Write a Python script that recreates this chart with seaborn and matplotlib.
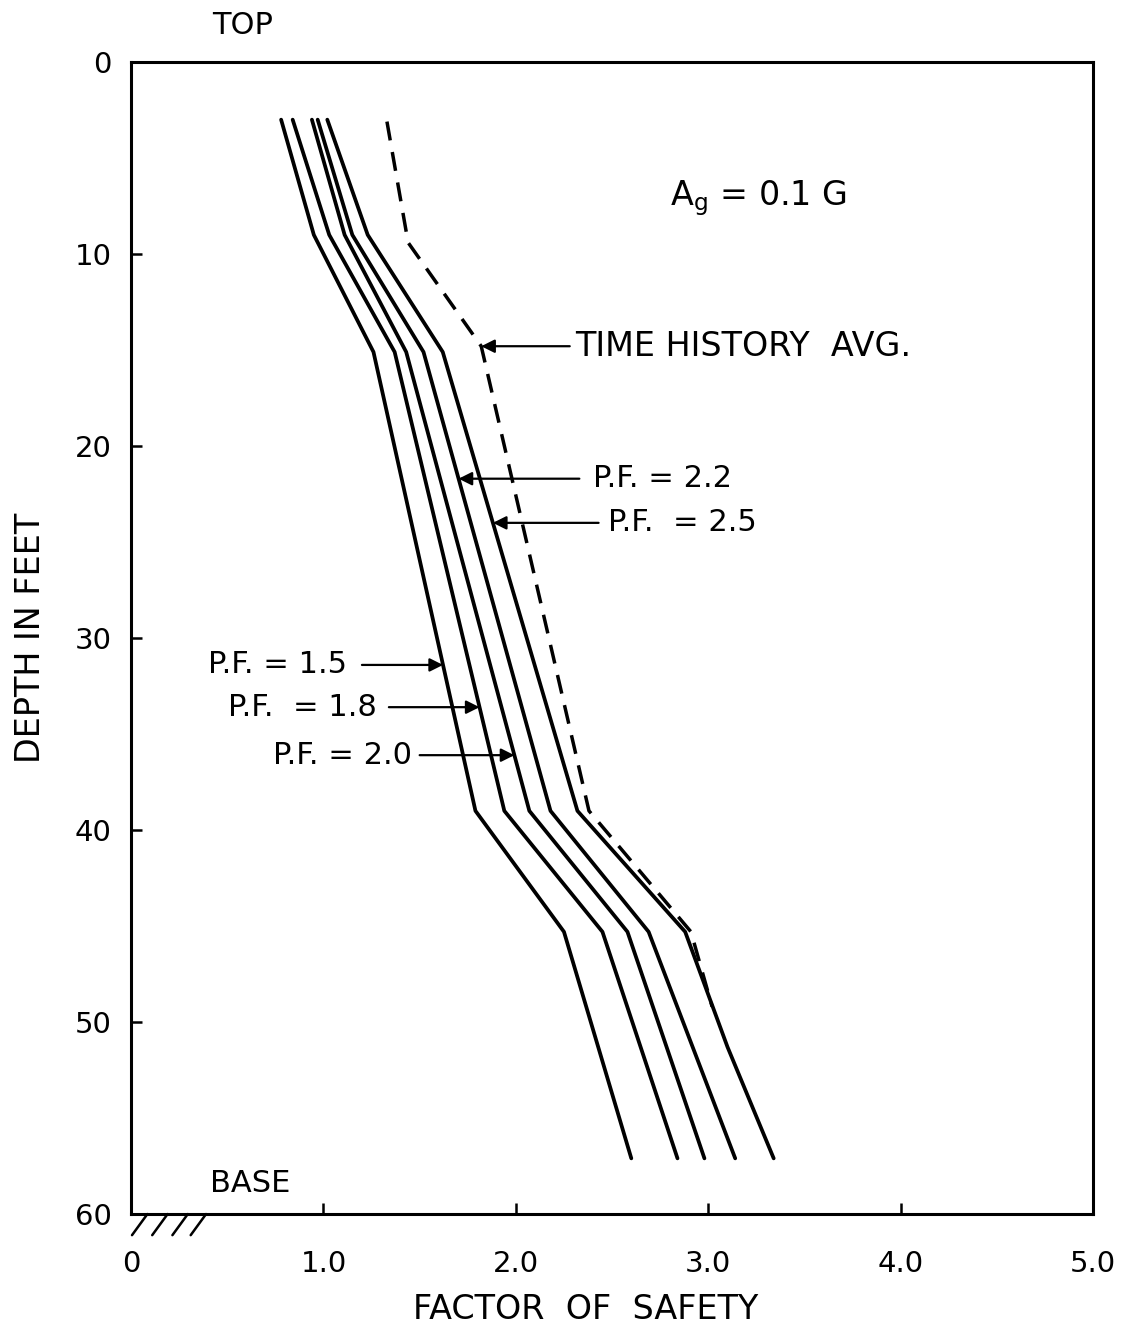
import numpy as np
import pandas as pd
import matplotlib
matplotlib.use("Agg")
import matplotlib.pyplot as plt
import seaborn as sns

# Depth (ft) of the profile break points
depth_pf = [3.0, 9.0, 15.1, 39.0, 45.3, 57.1]
depth_pf25 = [3.0, 9.0, 15.1, 39.0, 45.3, 51.3, 57.1]
depth_th = [3.1, 9.4, 14.8, 39.0, 45.3, 49.2]

# Factor of safety along depth for each peak factor (P.F.)
fs_pf15 = [0.78, 0.95, 1.26, 1.79, 2.25, 2.60]
fs_pf18 = [0.84, 1.03, 1.37, 1.94, 2.45, 2.84]
fs_pf20 = [0.94, 1.11, 1.43, 2.07, 2.58, 2.98]
fs_pf22 = [0.97, 1.15, 1.52, 2.18, 2.69, 3.14]
fs_pf25 = [1.02, 1.23, 1.62, 2.32, 2.88, 3.10, 3.34]
# Time history average
fs_th = [1.33, 1.44, 1.82, 2.38, 2.91, 3.02]

x_ticks = [0, 1, 2, 3, 4, 5]
x_ticklabels = ["0", "1.0", "2.0", "3.0", "4.0", "5.0"]
y_ticks = [0, 10, 20, 30, 40, 50, 60]
y_ticklabels = ["0", "10", "20", "30", "40", "50", "60"]

sns.set_theme(style="ticks")
plt.rcParams["font.family"] = ["DejaVu Sans"]
plt.rcParams["mathtext.default"] = "regular"
for key in ["text.color", "axes.labelcolor", "xtick.color", "ytick.color",
            "axes.edgecolor"]:
    plt.rcParams[key] = "black"

fig = plt.figure(figsize=(11.21, 13.29), dpi=100)
ax = fig.add_axes([0.1169, 0.0865, 0.8582, 0.8668])

curves = {
    "P.F. = 1.5": (fs_pf15, depth_pf),
    "P.F. = 1.8": (fs_pf18, depth_pf),
    "P.F. = 2.0": (fs_pf20, depth_pf),
    "P.F. = 2.2": (fs_pf22, depth_pf),
    "P.F. = 2.5": (fs_pf25, depth_pf25),
}
for name, (fs, dep) in curves.items():
    df = pd.DataFrame({"fs": fs, "depth": dep})
    sns.lineplot(data=df, x="fs", y="depth", sort=False, estimator=None,
                 color="black", lw=2.7, ax=ax)

df_th = pd.DataFrame({"fs": fs_th, "depth": depth_th})
sns.lineplot(data=df_th, x="fs", y="depth", sort=False, estimator=None,
             color="black", lw=2.5, linestyle=(0, (5.5, 3.4)), ax=ax)

ax.set_xlim(0, 5)
ax.set_ylim(60, 0)
ax.set_xticks(x_ticks)
ax.set_xticklabels(x_ticklabels)
ax.set_yticks(y_ticks)
ax.set_yticklabels(y_ticklabels)
ax.tick_params(axis="x", direction="in", length=8, width=1.8, pad=26,
               labelsize=21, bottom=True, top=False)
ax.tick_params(axis="y", direction="in", length=8, width=1.8, pad=14,
               labelsize=21, left=True, right=False)
for sp in ax.spines.values():
    sp.set_visible(True)
    sp.set_linewidth(2.2)
    sp.set_color("black")

ax.set_xlabel("FACTOR  OF  SAFETY", fontsize=24)
ax.set_ylabel("DEPTH IN FEET", fontsize=24)
ax.xaxis.set_label_coords(0.472, -0.083)
ax.yaxis.set_label_coords(-0.105, 0.5)
ax.xaxis.label.set_verticalalignment("center")
ax.yaxis.label.set_verticalalignment("center")

ax.text(0.58, -1.9, "TOP", fontsize=22, ha="center", va="center")
ax.text(0.62, 58.4, "BASE", fontsize=22, ha="center", va="center")
ax.text(2.80, 7.45, r"A$_{g}$ = 0.1 G", fontsize=24, ha="left", va="baseline")

# Hatching under the base of the profile
for x0 in [0.005, 0.11, 0.215, 0.31]:
    ax.plot([x0, x0 + 0.08], [61.1, 60.0], color="black", lw=1.8,
            clip_on=False, solid_capstyle="round")

arrow_kw = dict(arrowstyle="-|>", color="black", lw=1.6,
                mutation_scale=20, shrinkA=0, shrinkB=0)


def tip_on(fs, dep, d):
    return float(np.interp(d, dep, fs))


# Labels on the left with arrows pointing right
left_labels = [
    ("P.F. = 1.5", fs_pf15, depth_pf, 31.4, 1.12, 1.20),
    ("P.F.  = 1.8", fs_pf18, depth_pf, 33.6, 1.28, 1.34),
    ("P.F. = 2.0", fs_pf20, depth_pf, 36.1, 1.46, 1.50),
]
for text, fs, dep, d, xt, xs in left_labels:
    ax.annotate("", xy=(tip_on(fs, dep, d), d), xytext=(xs, d),
                arrowprops=arrow_kw)
    ax.text(xt, d, text, fontsize=22, ha="right", va="center")

# Labels on the right with arrows pointing left
right_labels = [
    ("TIME HISTORY  AVG.", fs_th, depth_th, 14.8, 2.31, 2.28, 24),
    ("P.F. = 2.2", fs_pf22, depth_pf, 21.7, 2.40, 2.33, 22),
    ("P.F.  = 2.5", fs_pf25, depth_pf25, 24.0, 2.48, 2.43, 22),
]
for text, fs, dep, d, xt, xs, size in right_labels:
    ax.annotate("", xy=(tip_on(fs, dep, d), d), xytext=(xs, d),
                arrowprops=arrow_kw)
    ax.text(xt, d, text, fontsize=size, ha="left", va="center")

fig.savefig("out.png", dpi=100, facecolor="white")
